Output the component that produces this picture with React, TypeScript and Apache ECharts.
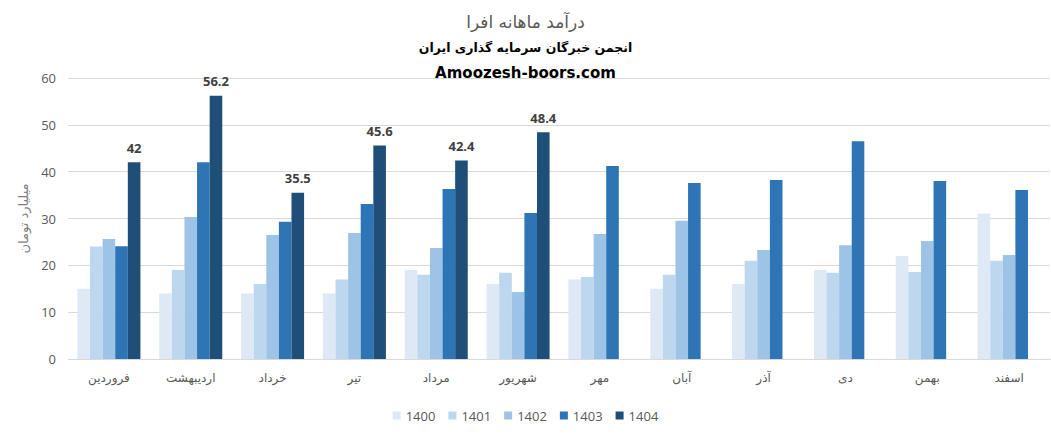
import React, { useEffect, useRef } from "react";
import * as echarts from "echarts";

const months = ["فروردین", "اردیبهشت", "خرداد", "تیر", "مرداد", "شهریور", "مهر", "آبان", "آذر", "دی", "بهمن", "اسفند"];
const years = ["1400", "1401", "1402", "1403", "1404"];
const v1400 = [15, 14, 14, 14, 19, 16, 17, 15, 16, 19, 22, 31];
const v1401 = [24, 19, 16, 17, 18, 18.4, 17.5, 18, 21, 18.4, 18.6, 21];
const v1402 = [25.6, 30.3, 26.5, 26.9, 23.7, 14.3, 26.7, 29.5, 23.3, 24.3, 25.2, 22.2];
const v1403 = [24.1, 42, 29.3, 33.1, 36.3, 31.2, 41.2, 37.6, 38.2, 46.5, 38, 36.1];
const v1404 = [42, 56.2, 35.5, 45.6, 42.4, 48.4, null, null, null, null, null, null];
const colors = ["#dee9f5", "#bdd7ee", "#9dc3e6", "#2e75b6", "#1f4e79"];
const seriesData = [v1400, v1401, v1402, v1403, v1404];

export default function App() {
  const ref = useRef<HTMLDivElement>(null);
  useEffect(() => {
    if (!ref.current) return;
    const chart = echarts.init(ref.current, null, { renderer: "svg" });
    chart.setOption({
      animation: false,
      backgroundColor: "#ffffff",
      title: [
        { text: "درآمد ماهانه افرا", left: "center", top: 8, textStyle: { fontFamily: "DejaVu Sans", fontSize: 17, fontWeight: "normal", color: "#595959" } },
        { text: "انجمن خبرگان سرمایه گذاری ایران", left: "center", top: 36, textStyle: { fontFamily: "DejaVu Sans", fontSize: 12.5, fontWeight: "bold", color: "#000000" } },
        { text: "Amoozesh-boors.com", left: "center", top: 60, textStyle: { fontFamily: "DejaVu Sans", fontSize: 15, fontWeight: "bold", color: "#000000" } },
      ],
      legend: {
        data: years,
        bottom: 14,
        left: "center",
        icon: "rect",
        itemWidth: 8,
        itemHeight: 8,
        itemGap: 13,
        textStyle: { fontFamily: "Open Sans", fontSize: 13, color: "#595959" },
      },
      grid: { left: 68, right: 1, top: 78, bottom: 82 },
      xAxis: {
        type: "category",
        data: months,
        axisTick: { show: false },
        axisLine: { lineStyle: { color: "#d9d9d9" } },
        axisLabel: { fontFamily: "DejaVu Sans", fontSize: 12, color: "#595959", margin: 13 },
      },
      yAxis: {
        type: "value",
        min: 0,
        max: 60,
        interval: 10,
        name: "میلیارد تومان",
        nameLocation: "middle",
        nameRotate: 90,
        nameGap: 38,
        nameTextStyle: { fontFamily: "DejaVu Sans", fontSize: 13, color: "#7f7f7f" },
        axisLabel: { fontFamily: "Open Sans", fontSize: 13, color: "#595959", margin: 12 },
        splitLine: { lineStyle: { color: "#d9d9d9" } },
        axisLine: { show: false },
        axisTick: { show: false },
      },
      series: years.map((y, i) => ({
        name: y,
        type: "bar",
        data: seriesData[i],
        barGap: "0%",
        barCategoryGap: "23%",
        itemStyle: { color: colors[i] },
        label: i === 4 ? { show: true, position: "top", distance: 8, fontFamily: "Open Sans", fontWeight: "bold", fontSize: 13, color: "#404040" } : { show: false },
      })),
    });
    return () => chart.dispose();
  }, []);
  return <div ref={ref} style={{ width: 1051, height: 441, position: "absolute", left: 0, top: 0 }} />;
}
